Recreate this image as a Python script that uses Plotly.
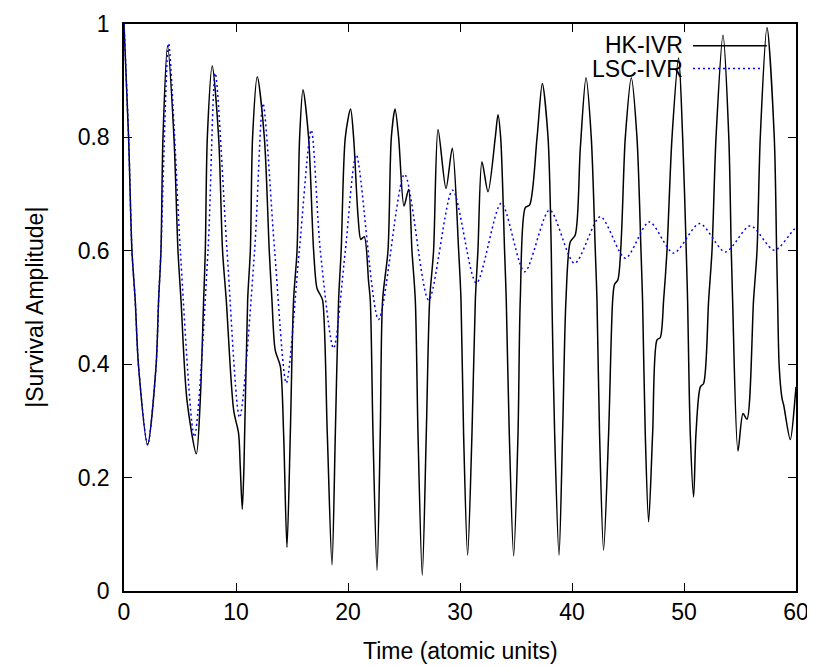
import plotly.graph_objects as go

# ---- data ----
hk_time = [0, 0.41, 0.71, 1.0, 1.3, 2.11, 2.86, 3.09, 3.3, 3.48, 3.89, 4.46, 4.82,
           5.09, 5.62, 6.46, 6.81, 7.11, 7.26, 7.44, 7.88, 8.45, 8.8,
           9.13, 9.79, 10.23, 10.38, 10.56, 10.71, 11.04, 11.28, 11.48, 11.9, 12.53, 12.97,
           13.21, 13.5, 13.96, 14.25, 14.55, 14.85, 15.14, 15.45, 15.68, 15.98, 16.48, 16.93,
           17.23, 17.53, 17.73, 18.15, 18.57, 18.87, 19.16, 19.39, 19.76, 20.23, 20.5, 20.9,
           21.15, 21.45, 21.84, 21.99, 22.23, 22.59, 22.88, 23.09, 23.57, 23.87, 24.2, 24.52,
           25.0, 25.41, 25.71, 26.01, 26.25, 26.63, 26.99, 27.29, 27.64, 28.04, 28.75, 29.31,
           29.88, 30.09, 30.32, 30.68, 31.07, 31.37, 31.6, 31.96, 32.5, 33.15, 33.39, 33.63,
           33.98, 34.13, 34.4, 34.79, 35.18, 35.38, 35.83, 36.22, 36.88, 37.35, 37.86, 38.15,
           38.21, 38.45, 38.84, 39.16, 39.46, 39.85, 40.29, 40.74, 41.25, 41.72, 42.08,
           42.23, 42.46, 42.82, 43.27, 43.63, 43.8, 44.1, 44.76, 45.29, 45.8, 46.16,
           46.3, 46.54, 46.84, 47.2, 47.59, 47.88, 48.18, 48.48, 48.93, 49.52, 49.88, 50.2,
           50.32, 50.56, 50.86, 51.07, 51.46, 51.75, 52.2, 52.5, 52.86, 53.48, 54.0, 54.22,
           54.34, 54.82, 55.27, 55.62, 56.21, 56.52, 56.81, 57.41, 58.06, 58.27,
           58.36, 58.5, 58.75, 58.9, 59.49, 59.94, 60.0]
hk_amp = [1.0, 0.80, 0.60, 0.513, 0.396, 0.258, 0.396, 0.513, 0.60, 0.80, 0.961, 0.80, 0.60,
          0.513, 0.337, 0.242, 0.337, 0.513, 0.60, 0.80, 0.926, 0.80, 0.60,
          0.513, 0.319, 0.278, 0.219, 0.144, 0.219, 0.513, 0.60, 0.80, 0.907, 0.80, 0.60,
          0.513, 0.425, 0.396, 0.278, 0.077, 0.278, 0.513, 0.60, 0.80, 0.884, 0.80, 0.60,
          0.534, 0.522, 0.513, 0.278, 0.046, 0.278, 0.513, 0.60, 0.80, 0.85, 0.80, 0.66,
          0.62, 0.625, 0.545, 0.513, 0.278, 0.036, 0.278, 0.513, 0.60, 0.80, 0.85, 0.80,
          0.679, 0.708, 0.60, 0.513, 0.278, 0.028, 0.278, 0.513, 0.60, 0.814, 0.71, 0.781,
          0.60, 0.513, 0.278, 0.063, 0.278, 0.513, 0.60, 0.757, 0.704, 0.80, 0.84, 0.80,
          0.60, 0.513, 0.278, 0.062, 0.278, 0.513, 0.676, 0.681, 0.80, 0.895, 0.80, 0.60,
          0.513, 0.278, 0.063, 0.278, 0.513, 0.616, 0.628, 0.78, 0.905, 0.80, 0.60,
          0.513, 0.278, 0.072, 0.278, 0.513, 0.541, 0.549, 0.80, 0.905, 0.80, 0.60,
          0.513, 0.278, 0.122, 0.278, 0.443, 0.447, 0.513, 0.60, 0.80, 0.94, 0.80, 0.60,
          0.513, 0.278, 0.166, 0.278, 0.36, 0.366, 0.513, 0.60, 0.80, 0.98, 0.80, 0.60,
          0.513, 0.247, 0.313, 0.303, 0.513, 0.60, 0.80, 0.994, 0.80, 0.60,
          0.513, 0.396, 0.34, 0.328, 0.267, 0.346, 0.36]

lsc_time = [0, 0.41, 0.71, 1.0, 1.3, 2.11, 2.86, 3.09, 3.3, 3.98, 4.52, 5.03, 6.28, 7.5, 8.15,
            9.2, 10.32, 11.66, 12.41, 13.45, 14.49, 15.65, 16.72, 17.53, 18.71, 19.76, 20.74,
            22.73, 25.05, 27.2, 29.34, 31.46, 33.69, 35.77, 38.0, 40.23, 42.53, 44.76, 46.9,
            49.07, 51.39, 53.69, 55.92, 58.06, 59.79, 60.0]
lsc_amp = [1.0, 0.80, 0.60, 0.513, 0.396, 0.258, 0.396, 0.513, 0.60, 0.966, 0.80, 0.60, 0.272,
           0.60, 0.913, 0.60, 0.306, 0.60, 0.86, 0.60, 0.367, 0.60, 0.813, 0.60, 0.428, 0.60,
           0.769, 0.479, 0.735, 0.513, 0.707, 0.543, 0.684, 0.563, 0.672, 0.578, 0.66, 0.587,
           0.651, 0.596, 0.648, 0.598, 0.644, 0.601, 0.637, 0.64]

x_ticks = [0, 10, 20, 30, 40, 50, 60]
y_ticks = [0, 0.2, 0.4, 0.6, 0.8, 1]
y_tick_labels = ["0", "0.2", "0.4", "0.6", "0.8", "1"]

FONT = "Liberation Sans, Arial, Helvetica, sans-serif"

fig = go.Figure()
fig.add_trace(go.Scatter(x=hk_time, y=hk_amp, mode="lines", name="HK-IVR",
                         line=dict(color="black", width=1.5, shape="spline", smoothing=0.8)))
fig.add_trace(go.Scatter(x=lsc_time, y=lsc_amp, mode="lines", name="LSC-IVR",
                         line=dict(color="#0000ff", width=1.5, dash="2px,3px",
                                   shape="spline", smoothing=0.8)))

axis_common = dict(showline=True, linecolor="black", linewidth=1.5, mirror="ticks",
                   ticks="inside", ticklen=8, tickwidth=1.2, tickcolor="black",
                   showgrid=False, zeroline=False, automargin=False,
                   tickfont=dict(family=FONT, size=23, color="black"))

fig.update_xaxes(range=[0, 60], tickvals=x_ticks, **axis_common)
fig.update_yaxes(range=[0, 1], tickvals=y_ticks, ticktext=y_tick_labels,
                 ticklabelstandoff=8, **axis_common)

# axis titles
annotations = [
    dict(text="Time (atomic units)", xref="paper", yref="paper", x=0.5, y=-0.105,
         xanchor="center", yanchor="middle", showarrow=False,
         font=dict(family=FONT, size=23, color="black")),
    dict(text="|Survival Amplitude|", xref="paper", yref="paper", x=-0.1335, y=0.5,
         xanchor="center", yanchor="middle", textangle=-90, showarrow=False,
         font=dict(family=FONT, size=23, color="black")),
    # legend texts (gnuplot style: text left of sample)
    dict(text="HK-IVR", xref="paper", yref="paper", x=0.835, y=0.963,
         xanchor="right", yanchor="middle", showarrow=False, height=21,
         font=dict(family=FONT, size=23, color="black")),
    dict(text="LSC-IVR", xref="paper", yref="paper", x=0.835, y=0.922,
         xanchor="right", yanchor="middle", showarrow=False, height=21,
         font=dict(family=FONT, size=23, color="black")),
]
shapes = [
    dict(type="line", xref="paper", yref="paper", x0=0.8467, x1=0.9565, y0=0.9615, y1=0.9615,
         line=dict(color="black", width=1.5)),
    dict(type="line", xref="paper", yref="paper", x0=0.8467, x1=0.951, y0=0.9215, y1=0.9215,
         line=dict(color="#0000ff", width=1.5, dash="2px,3px")),
]

# the page body adds an 8px margin, so the figure is sized/offset to compensate
fig.update_layout(width=807, height=658, showlegend=False,
                  margin=dict(l=115.7, r=19.3, t=16, b=75),
                  paper_bgcolor="white", plot_bgcolor="white",
                  annotations=annotations, shapes=shapes,
                  font=dict(family=FONT, size=23, color="black"))

fig.write_html("out.html")
